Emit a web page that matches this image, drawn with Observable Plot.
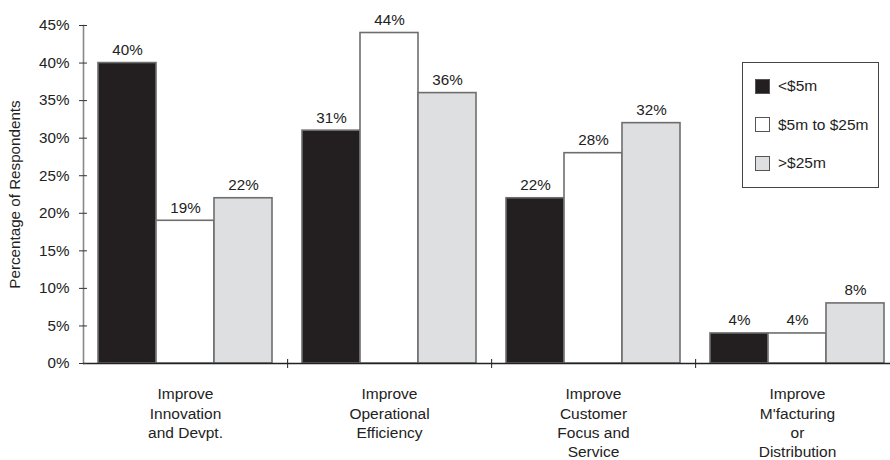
<!DOCTYPE html>
<html>
<head>
<meta charset="utf-8">
<script src="https://cdn.jsdelivr.net/npm/d3@7"></script>
<script src="https://cdn.jsdelivr.net/npm/@observablehq/plot@0.6"></script>
<style>
  html, body { margin: 0; padding: 0; background: #fff; }
  #wrap { position: relative; width: 890px; height: 460px; font-family: "Liberation Sans", Arial, sans-serif; color: #222; }
  #legend { position: absolute; left: 742px; top: 62px; width: 137px; height: 126px; border: 1px solid #444; box-sizing: border-box; background: #fff; }
  .item { position: absolute; left: 12px; display: flex; align-items: center; font-size: 15.5px; }
  .sw { width: 13px; height: 13px; border: 1px solid #555; margin-right: 8px; }
</style>
</head>
<body>
<div id="wrap"><div id="legend"></div></div>
<script>
const categories = ["Improve\nInnovation\nand Devpt.", "Improve\nOperational\nEfficiency", "Improve\nCustomer\nFocus and\nService", "Improve\nM'facturing\nor\nDistribution"];
const series = ["<$5m", "$5m to $25m", ">$25m"];
const under5 = [40, 31, 22, 4];
const from5to25 = [19, 44, 28, 4];
const over25 = [22, 36, 32, 8];
const colors = ["#231f20", "#ffffff", "#dedfe1"];
const yTicks = [0, 5, 10, 15, 20, 25, 30, 35, 40, 45];

const seriesValues = [under5, from5to25, over25];
const data = [];
categories.forEach((c, i) => series.forEach((s, j) => data.push({category: c, series: s, value: seriesValues[j][i]})));

const bandW = (890 + 9 - 82) / categories.length;

const chart = Plot.plot({
  width: 890,
  height: 460,
  marginLeft: 82,
  marginRight: -9,
  marginTop: 25,
  marginBottom: 97,
  style: {fontFamily: "Liberation Sans, Arial, sans-serif", fontSize: "15px", color: "#222", background: "transparent", overflow: "visible"},
  fx: {domain: categories, padding: 0, label: null},
  x: {domain: series, paddingInner: 0, paddingOuter: 0.24, axis: null},
  y: {domain: [0, 45], label: null},
  color: {domain: series, range: colors},
  marks: [
    Plot.barY(data, {fx: "category", x: "series", y: "value", fill: "series", stroke: "#6e6e6e", strokeWidth: 1.6}),
    Plot.text(data, {fx: "category", x: "series", y: "value", text: d => d.value + "%", lineAnchor: "bottom", dy: -8, fontSize: 15.2, fill: "#222"}),
    Plot.frame({anchor: "left", fx: () => categories[0], stroke: "#888", strokeWidth: 1.6}),
    Plot.ruleY([0], {stroke: "#222", strokeWidth: 1.4}),
    Plot.axisY({ticks: yTicks, tickSize: 0, tickPadding: 14, tickFormat: d => d + "%", fontSize: 15.2, label: "Percentage of Respondents", labelAnchor: "center", labelOffset: 74, labelArrow: "none"}),
    Plot.axisY({ticks: yTicks, tickSize: 8, dx: 4, tickFormat: () => "", label: null, stroke: "#333"}),
    Plot.axisFx({anchor: "bottom", tickSize: 0, tickPadding: 22, fontSize: 15.5, lineHeight: 1.25, label: null}),
    Plot.axisFx({anchor: "bottom", ticks: categories.slice(0, 3), tickSize: 9, dy: -4, dx: bandW / 2, tickFormat: () => "", label: null, stroke: "#222"})
  ]
});
document.getElementById("wrap").prepend(chart);

const legend = document.getElementById("legend");
series.forEach((s, j) => {
  const item = document.createElement("div");
  item.className = "item";
  item.style.top = (14 + j * 38.5) + "px";
  const sw = document.createElement("div");
  sw.className = "sw";
  sw.style.background = colors[j];
  const label = document.createElement("span");
  label.textContent = s;
  item.append(sw, label);
  legend.append(item);
});
</script>
</body>
</html>
